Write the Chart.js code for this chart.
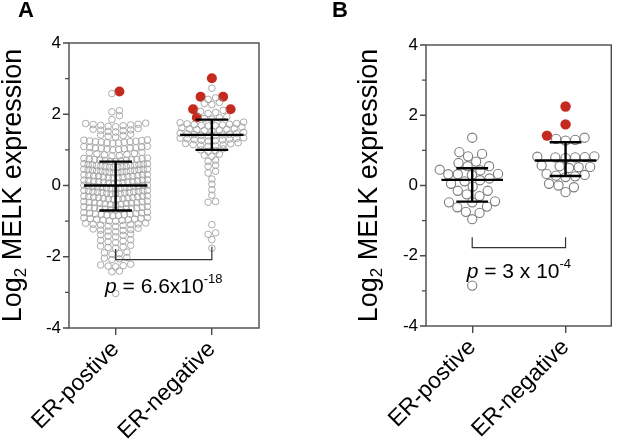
<!DOCTYPE html>
<html><head><meta charset="utf-8">
<script src="https://cdn.jsdelivr.net/npm/chart.js@4"></script>
<style>
html,body{margin:0;padding:0;background:#fff;overflow:hidden;}
#wrap{position:relative;width:617px;height:442px;overflow:hidden;background:#fff;}
.panel{position:absolute;top:0;height:442px;}
#pa{left:0;width:305px;}
#pb{left:305px;width:312px;}
.lbl{position:absolute;font:bold 22px "Liberation Sans",Arial,sans-serif;line-height:22px;color:#000;}
</style></head><body>
<div id="wrap">
<div class="panel" id="pa"><canvas id="ca"></canvas></div>
<div class="panel" id="pb"><canvas id="cb"></canvas></div>
<div class="lbl" style="left:18px;top:-1px">A</div>
<div class="lbl" style="left:332px;top:-1px">B</div>
</div>
<script>
// ---------- DATA ----------
const categories = ['ER-postive', 'ER-negative'];
const yTickValues = [-4, -3, -2, -1, 0, 1, 2, 3, 4];

// Panel A (Log2 MELK expression); grey = other samples, high = red highlighted samples
const erPosA = [
  -3.03,
  -2.42, -2.40,
  -2.28, -2.26, -2.25, -2.23, -2.21,
  -2.08, -2.06, -2.04, -2.02,
  -1.93, -1.91, -1.89, -1.87,
  -1.76, -1.74, -1.72, -1.70, -1.68,
  -1.60, -1.58, -1.56, -1.54, -1.52,
  -1.44, -1.42, -1.40, -1.38, -1.36,
  -1.30, -1.28, -1.26, -1.25, -1.24, -1.22, -1.20,
  -1.15, -1.14, -1.12, -1.11, -1.10, -1.09, -1.08, -1.06, -1.05,
  -1.00, -0.99, -0.98, -0.97, -0.96, -0.95, -0.94, -0.93, -0.92, -0.91, -0.90,
  -0.85, -0.84, -0.83, -0.82, -0.81, -0.80, -0.80, -0.79, -0.78, -0.77, -0.76, -0.75,
  -0.69, -0.68, -0.67, -0.66, -0.65, -0.65, -0.64, -0.63, -0.63, -0.62, -0.61, -0.60, -0.59,
  -0.54, -0.53, -0.52, -0.51, -0.50, -0.50, -0.49, -0.48, -0.48, -0.47, -0.46, -0.45, -0.44,
  -0.39, -0.38, -0.38, -0.37, -0.36, -0.35, -0.34, -0.34, -0.33, -0.32, -0.31, -0.30, -0.30, -0.29,
  -0.24, -0.24, -0.23, -0.22, -0.21, -0.20, -0.20, -0.19, -0.18, -0.18, -0.17, -0.16, -0.15, -0.14, -0.14,
  -0.09, -0.09, -0.08, -0.07, -0.06, -0.05, -0.05, -0.04, -0.03, -0.03, -0.02, -0.01, 0.00, 0.01, 0.01,
  0.06, 0.07, 0.07, 0.08, 0.09, 0.10, 0.11, 0.11, 0.12, 0.13, 0.14, 0.15, 0.15, 0.16,
  0.21, 0.22, 0.22, 0.23, 0.24, 0.25, 0.26, 0.26, 0.27, 0.28, 0.29, 0.30, 0.30, 0.31,
  0.36, 0.36, 0.37, 0.38, 0.38, 0.39, 0.40, 0.41, 0.41, 0.42, 0.43, 0.44, 0.44, 0.45, 0.46, 0.46,
  0.51, 0.51, 0.52, 0.53, 0.53, 0.54, 0.55, 0.56, 0.56, 0.57, 0.58, 0.59, 0.59, 0.60, 0.61, 0.61,
  0.67, 0.68, 0.69, 0.70, 0.71, 0.71, 0.72, 0.73, 0.73, 0.74, 0.75, 0.76, 0.77,
  0.83, 0.84, 0.86, 0.87, 0.89, 0.90, 0.92, 0.93,
  1.00, 1.01, 1.02, 1.03, 1.04, 1.05, 1.05, 1.06, 1.07, 1.08, 1.09, 1.10,
  1.18, 1.19, 1.20, 1.21, 1.22, 1.23, 1.23, 1.24, 1.25, 1.26, 1.27, 1.28,
  1.36, 1.38, 1.40, 1.42, 1.44,
  1.50, 1.52, 1.54, 1.55, 1.56, 1.58, 1.60,
  1.65, 1.66, 1.68, 1.69, 1.70, 1.71, 1.72, 1.74, 1.75,
  1.85, 1.96, 2.07, 2.10, 2.58
];
const erPosAHigh = [2.64];
const erNegA = [
  -1.76, -1.52, -1.37, -1.33, -1.10,
  -0.47, -0.45, -0.27, -0.12, 0.04, 0.18, 0.35, 0.40, 0.54, 0.57, 0.68, 0.71,
  0.82, 0.85, 0.88,
  0.96, 0.98, 1.00, 1.03,
  1.10, 1.11, 1.13, 1.14, 1.15, 1.17, 1.18, 1.20,
  1.25, 1.26, 1.27, 1.28, 1.29, 1.30, 1.31, 1.32, 1.33, 1.34,
  1.39, 1.40, 1.41, 1.42, 1.43, 1.44, 1.45, 1.46, 1.47, 1.49,
  1.53, 1.54, 1.56, 1.57, 1.58, 1.59, 1.60, 1.62, 1.64,
  1.67, 1.68, 1.69, 1.70, 1.71, 1.72, 1.73, 1.74, 1.76, 1.78,
  1.86, 1.88, 1.90, 1.93,
  2.02, 2.05, 2.08, 2.11,
  2.27, 2.30, 2.33,
  2.42, 2.46,
  2.73
];
const erNegAHigh = [1.91, 2.14, 2.14, 2.49, 2.49, 3.01];
const centerA = [0.00, 1.42];
const lowA = [-0.70, 1.00];
const highA = [0.67, 1.85];
const bracketA = { left: -1.78, right: -1.72, bottom: -2.08 };
const pTextA = { main: '6.6x10', exp: '-18', value: -3.01 };

// Panel B
const erPosB = [
  -2.85, -0.96, -0.78, -0.75, -0.62, -0.60, -0.48, -0.48, -0.45, -0.30, -0.25,
  -0.15, -0.15, -0.03, 0.05, 0.12, 0.15, 0.20, 0.30, 0.32, 0.32, 0.33, 0.43, 0.45,
  0.55, 0.55, 0.64, 0.68, 0.83, 0.90, 0.95, 1.36
];
const erPosBHigh = [];
const erNegB = [
  -0.19, -0.05, 0.00, 0.05, 0.24, 0.26, 0.28, 0.30, 0.33, 0.50, 0.52, 0.53, 0.55, 0.57,
  0.78, 0.80, 0.80, 0.81, 0.82, 0.83, 1.28, 1.30, 1.33, 1.36
];
const erNegBHigh = [1.42, 1.74, 2.25];
const centerB = [0.16, 0.71];
const lowB = [-0.46, 0.27];
const highB = [0.49, 1.23];
const bracketB = { left: -1.47, right: -1.47, bottom: -1.77 };
const pTextB = { main: '3 x 10', exp: '-4', value: -2.62 };

// ---------- LAYOUT HELPERS ----------
const FONT = '"Liberation Sans", Arial, Helvetica, sans-serif';

// GraphPad-like row scatter: bin by value, spread each row around the category
function rowLayout(values, highs, center, rowH, step, maxHalf) {
  const pts = values.map(v => ({ v, h: false })).concat(highs.map(v => ({ v, h: true })))
    .sort((a, b) => a.v - b.v);
  const out = [];
  let i = 0;
  while (i < pts.length) {
    const start = pts[i].v, row = [];
    while (i < pts.length && pts[i].v < start + rowH - 1e-9) { row.push(pts[i]); i++; }
    const n = row.length;
    let s = step;
    if (n > 1 && (n - 1) * s / 2 > maxHalf) s = 2 * maxHalf / (n - 1);
    const offs = [];
    for (let k = 0; k < n; k++) offs.push((k - (n - 1) / 2) * s);
    offs.sort((a, b) => (Math.abs(a) - Math.abs(b)) || (a - b));
    row.forEach((p, k) => out.push({ x: center + offs[k], y: p.v, high: p.h }));
  }
  return out;
}
// classic beeswarm (non-overlapping)
function swarmLayout(values, highs, center, diam, pxX, pxY) {
  const pts = values.map(v => ({ v, h: false })).concat(highs.map(v => ({ v, h: true })))
    .sort((a, b) => a.v - b.v);
  const placed = [];
  return pts.map(p => {
    const yp = p.v * pxY;
    const cands = [0];
    placed.forEach(q => {
      const dy = yp - q.y;
      if (Math.abs(dy) < diam) { const dx = Math.sqrt(diam * diam - dy * dy); cands.push(q.x + dx, q.x - dx); }
    });
    cands.sort((a, b) => (Math.abs(a) - Math.abs(b)) || (b - a));
    let xp = 0;
    for (const c of cands) {
      if (placed.every(q => (c - q.x) ** 2 + (yp - q.y) ** 2 >= diam * diam - 0.01)) { xp = c; break; }
    }
    placed.push({ x: xp, y: yp });
    return { x: center + xp / pxX, y: p.v, high: p.h };
  });
}

const extrasPlugin = {
  id: 'extras',
  afterDraw(chart, args, o) {
    const { ctx, chartArea: a, scales: { x, y } } = chart;
    ctx.save();
    // frame
    ctx.strokeStyle = '#4a4a4a'; ctx.lineWidth = 1.4;
    ctx.strokeRect(a.left, a.top, a.right - a.left, a.bottom - a.top);
    // y ticks (major longer, minor shorter)
    ctx.beginPath();
    y.ticks.forEach(t => {
      const py = y.getPixelForValue(t.value);
      const len = (t.value % 2 === 0) ? 6 : 4;
      ctx.moveTo(a.left - len, py); ctx.lineTo(a.left, py);
    });
    ctx.stroke();
    // mean & SD bars
    ctx.strokeStyle = '#000'; ctx.lineWidth = 2.4;
    o.center.forEach((c, i) => {
      const py = y.getPixelForValue(c);
      const pl = y.getPixelForValue(o.low[i]), ph = y.getPixelForValue(o.high[i]);
      const cx = x.getPixelForValue(i);
      ctx.beginPath();
      ctx.moveTo(x.getPixelForValue(i - o.meanHalf), py); ctx.lineTo(x.getPixelForValue(i + o.meanHalf), py);
      ctx.moveTo(cx, pl); ctx.lineTo(cx, ph);
      ctx.moveTo(x.getPixelForValue(i - o.capHalf), pl); ctx.lineTo(x.getPixelForValue(i + o.capHalf), pl);
      ctx.moveTo(x.getPixelForValue(i - o.capHalf), ph); ctx.lineTo(x.getPixelForValue(i + o.capHalf), ph);
      ctx.stroke();
    });
    // bracket
    const b = o.bracket;
    ctx.strokeStyle = '#333'; ctx.lineWidth = 1.2;
    ctx.beginPath();
    const x0 = x.getPixelForValue(0), x1 = x.getPixelForValue(1), yb = y.getPixelForValue(b.bottom);
    ctx.moveTo(x0, y.getPixelForValue(b.left)); ctx.lineTo(x0, yb); ctx.lineTo(x1, yb); ctx.lineTo(x1, y.getPixelForValue(b.right));
    ctx.stroke();
    // p value text
    const p = o.p;
    const fs = o.pFont, fsS = Math.round(fs * 0.62);
    ctx.fillStyle = '#000'; ctx.textBaseline = 'alphabetic'; ctx.textAlign = 'left';
    ctx.font = 'italic ' + fs + 'px ' + FONT; const w1 = ctx.measureText('p').width;
    ctx.font = fs + 'px ' + FONT; const w2 = ctx.measureText(' = ' + p.main).width;
    ctx.font = fsS + 'px ' + FONT; const w3 = ctx.measureText(p.exp).width;
    let tx = x.getPixelForValue(0.5) - (w1 + w2 + w3) / 2;
    const ty = y.getPixelForValue(p.value);
    ctx.font = 'italic ' + fs + 'px ' + FONT; ctx.fillText('p', tx, ty); tx += w1;
    ctx.font = fs + 'px ' + FONT; ctx.fillText(' = ' + p.main, tx, ty); tx += w2;
    ctx.font = fsS + 'px ' + FONT; ctx.fillText(p.exp, tx, ty - fs * 0.45);
    // y axis title with subscript
    const tf = o.titleFont, tfS = Math.round(tf * 0.62);
    ctx.save();
    ctx.translate(o.titleX, (a.top + a.bottom) / 2);
    ctx.rotate(-Math.PI / 2);
    ctx.font = tf + 'px ' + FONT; const t1 = ctx.measureText('Log').width; const t3 = ctx.measureText(' MELK expression').width;
    ctx.font = tfS + 'px ' + FONT; const t2 = ctx.measureText('2').width;
    let sx = -(t1 + t2 + t3) / 2;
    ctx.font = tf + 'px ' + FONT; ctx.fillText('Log', sx, 0); sx += t1;
    ctx.font = tfS + 'px ' + FONT; ctx.fillText('2', sx, tf * 0.2); sx += t2;
    ctx.font = tf + 'px ' + FONT; ctx.fillText(' MELK expression', sx, 0);
    ctx.restore();
    ctx.restore();
  }
};

function buildChart(id, pts, cfg) {
  const grey = pts.filter(p => !p.high).map(p => ({ x: p.x, y: p.y }));
  const red = pts.filter(p => p.high).map(p => ({ x: p.x, y: p.y }));
  return new Chart(document.getElementById(id), {
    type: 'scatter',
    data: {
      datasets: [
        { data: grey, pointRadius: cfg.r, pointBorderWidth: cfg.bw, pointBorderColor: cfg.greyColor,
          pointBackgroundColor: 'rgba(255,255,255,0)', pointHoverRadius: cfg.r },
        { data: red, pointRadius: cfg.rr, pointBorderWidth: 0, pointBorderColor: '#c42a1e',
          pointBackgroundColor: '#c42a1e', pointHoverRadius: cfg.rr }
      ]
    },
    options: {
      responsive: true, maintainAspectRatio: false, animation: false, events: [],
      layout: { padding: cfg.padding },
      plugins: {
        legend: { display: false }, tooltip: { enabled: false },
        extras: {
          center: cfg.center, low: cfg.low, high: cfg.high, meanHalf: 0.33, capHalf: 0.17,
          bracket: cfg.bracket, p: cfg.p, pFont: 21, titleFont: 27, titleX: cfg.titleX
        }
      },
      scales: {
        x: {
          type: 'linear', min: cfg.xmin, max: cfg.xmax,
          afterBuildTicks: s => { s.ticks = categories.map((c, i) => ({ value: i })); },
          afterFit: s => { s.height = cfg.xh; },
          ticks: { callback: v => categories[v], color: '#000', font: { family: FONT, size: 23 },
                   minRotation: 45, maxRotation: 45, padding: 1, autoSkip: false },
          grid: { drawOnChartArea: false, drawTicks: true, tickLength: 7, color: '#4a4a4a', lineWidth: 1.4 },
          border: { display: false }
        },
        y: {
          type: 'linear', min: -4, max: 4,
          afterBuildTicks: s => { s.ticks = yTickValues.map(v => ({ value: v })); },
          afterFit: s => { s.width = cfg.yw; },
          ticks: { callback: v => (v % 2 === 0 ? String(v) : ''), color: '#000',
                   font: { family: FONT, size: 17 }, padding: 8, autoSkip: false },
          grid: { drawOnChartArea: false, drawTicks: false },
          border: { display: false }
        }
      }
    },
    plugins: [extrasPlugin]
  });
}

const ptsA = rowLayout(erPosA, erPosAHigh, 0, 0.13, 0.078, 0.33)
  .concat(rowLayout(erNegA, erNegAHigh, 1, 0.13, 0.078, 0.33));
const ptsB = swarmLayout(erPosB, erPosBHigh, 0, 9.8, 95, 35.1)
  .concat(swarmLayout(erNegB, erNegBHigh, 1, 9.8, 95, 35.1));

buildChart('ca', ptsA, {
  r: 3.3, rr: 5, bw: 0.9, greyColor: '#a2a2a2',
  padding: { left: 0, top: 43, right: 46, bottom: 0 }, yw: 69, xh: 114,
  xmin: -0.485, xmax: 1.49, titleX: 21,
  center: centerA, low: lowA, high: highA, bracket: bracketA, p: pTextA
});
buildChart('cb', ptsB, {
  r: 4.6, rr: 5.2, bw: 1.1, greyColor: '#7c7c7c',
  padding: { left: 41, top: 45, right: 2, bottom: 0 }, yw: 80, xh: 116,
  xmin: -0.495, xmax: 1.49, titleX: 72,
  center: centerB, low: lowB, high: highB, bracket: bracketB, p: pTextB
});
</script>
</body></html>
